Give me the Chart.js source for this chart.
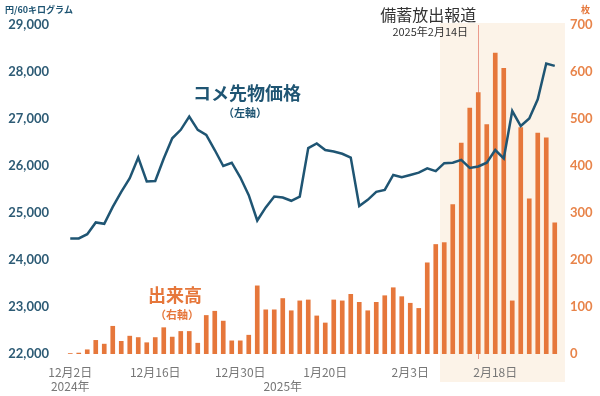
<!DOCTYPE html>
<html>
<head>
<meta charset="utf-8">
<script src="https://cdn.jsdelivr.net/npm/chart.js@4.4.1/dist/chart.umd.min.js"></script>
<style>
  body { margin: 0; background: #fff; }
  #wrap { width: 600px; height: 396px; position: relative; }
</style>
</head>
<body>
<div id="wrap"><canvas id="c"></canvas></div>
<script>
// 取引日 (2024/12/2 - 2025/2/28)
const dates = [
  '12月2日','12月3日','12月4日','12月5日','12月6日',
  '12月9日','12月10日','12月11日','12月12日','12月13日',
  '12月16日','12月17日','12月18日','12月19日','12月20日',
  '12月23日','12月24日','12月25日','12月26日','12月27日',
  '12月30日',
  '1月6日','1月7日','1月8日','1月9日','1月10日',
  '1月14日','1月15日','1月16日','1月17日',
  '1月20日','1月21日','1月22日','1月23日','1月24日',
  '1月27日','1月28日','1月29日','1月30日','1月31日',
  '2月3日','2月4日','2月5日','2月6日','2月7日',
  '2月10日','2月12日','2月13日','2月14日',
  '2月17日','2月18日','2月19日','2月20日','2月21日',
  '2月25日','2月26日','2月27日','2月28日'
];

// コメ先物価格 (円/60キログラム, 左軸)
const price = [
  24460, 24460, 24550, 24800, 24770, 25130, 25450, 25740, 26180, 25670,
  25680, 26160, 26590, 26770, 27050, 26770, 26660, 26340, 26000, 26070,
  25760, 25380, 24840, 25120, 25350, 25330, 25260, 25350, 26380, 26480,
  26340, 26310, 26260, 26180, 25150, 25280, 25450, 25490, 25810, 25760,
  25810, 25860, 25950, 25890, 26060, 26070, 26130, 25960, 25990, 26070,
  26340, 26160, 27170, 26850, 27010, 27420, 28180, 28130
];

// 出来高 (枚, 右軸)
const volume = [
  1, 2, 9, 29, 21, 59, 27, 38, 35, 24,
  35, 56, 36, 48, 48, 23, 82, 91, 70, 28,
  28, 40, 145, 94, 94, 118, 92, 113, 115, 81,
  66, 115, 113, 127, 110, 92, 110, 124, 141, 122,
  108, 97, 194, 233, 237, 318, 449, 523, 556, 488,
  640, 608, 113, 482, 330, 470, 460, 279
];

// x軸に出すラベル
const tickIndex = [0, 10, 20, 25, 30, 40, 50];
const tickText = [['12月2日', '2024年'], '12月16日', '12月30日', ['', '2025年'], '1月20日', '2月3日', '2月18日'];

const eventIndex = 48;          // 2025年2月14日
const shadeFrom = 43.5, shadeTo = 58.2;

const TEAL = '#1f5573';
const ORANGE = '#e6773b';
const JP = '"Noto Sans CJK JP", sans-serif';

function idxToX(scale, i) {
  const x0 = scale.getPixelForValue(0);
  const x1 = scale.getPixelForValue(1);
  return x0 + (x1 - x0) * i;
}

// 網掛けは軸ラベルより先に描く
const shade = {
  id: 'shade',
  beforeDraw(chart) {
    const { ctx, chartArea, scales } = chart;
    const xs = scales.x;
    const a = idxToX(xs, shadeFrom), b = idxToX(xs, shadeTo);
    ctx.save();
    ctx.fillStyle = '#fcf3e8';
    ctx.fillRect(a, chartArea.top - 2, b - a, 382 - chartArea.top + 2);
    ctx.restore();
  }
};

const eventLine = {
  id: 'eventLine',
  beforeDatasetsDraw(chart) {
    const { ctx, chartArea, scales } = chart;
    const ex = Math.round(idxToX(scales.x, eventIndex)) + 0.5;
    ctx.save();
    ctx.strokeStyle = '#eb9b8c';
    ctx.lineWidth = 1;
    ctx.beginPath();
    ctx.moveTo(ex, chartArea.top);
    ctx.lineTo(ex, chartArea.bottom + 5);
    ctx.stroke();
    ctx.restore();
  }
};

const notes = {
  id: 'notes',
  afterDraw(chart) {
    const { ctx, scales } = chart;
    const ex = idxToX(scales.x, eventIndex);
    ctx.save();
    ctx.textBaseline = 'middle';
    ctx.textAlign = 'left';
    ctx.fillStyle = TEAL;
    ctx.font = 'bold 9px ' + JP;
    ctx.fillText('円/60キログラム', 5, 10);
    ctx.fillStyle = ORANGE;
    ctx.fillText('枚', 581, 10);

    ctx.textAlign = 'center';
    ctx.fillStyle = TEAL;
    ctx.font = 'bold 18px ' + JP;
    ctx.fillText('コメ先物価格', 247, 93);
    ctx.font = 'bold 11px ' + JP;
    ctx.fillText('（左軸）', 245, 113);

    ctx.fillStyle = ORANGE;
    ctx.font = 'bold 18px ' + JP;
    ctx.fillText('出来高', 175, 295);
    ctx.font = 'bold 11px ' + JP;
    ctx.fillText('（右軸）', 177, 315);

    ctx.fillStyle = '#333';
    ctx.font = '16px ' + JP;
    ctx.fillText('備蓄放出報道', ex - 50, 15);
    ctx.font = '11px ' + JP;
    ctx.fillText('2025年2月14日', ex - 48, 32);
    ctx.restore();
  }
};

new Chart(document.getElementById('c'), {
  data: {
    labels: dates,
    datasets: [
      { type: 'line', label: 'コメ先物価格', data: price, yAxisID: 'y',
        borderColor: TEAL, borderWidth: 2.5, pointRadius: 0, tension: 0, order: 0 },
      { type: 'bar', label: '出来高', data: volume, yAxisID: 'y1',
        backgroundColor: ORANGE, barThickness: 4, order: 1 }
    ]
  },
  options: {
    responsive: true,
    maintainAspectRatio: false,
    animation: false,
    layout: { padding: { top: 25 } },
    plugins: { legend: { display: false }, tooltip: { enabled: false } },
    scales: {
      x: {
        offset: true,
        grid: { display: false, drawTicks: false },
        border: { display: false },
        afterFit: s => { s.height = 42; },
        ticks: {
          autoSkip: false, maxRotation: 0, padding: 11,
          color: '#777', font: { family: JP, size: 12 },
          callback: (v, i) => { const k = tickIndex.indexOf(i); return k < 0 ? null : tickText[k]; }
        }
      },
      y: {
        position: 'left', min: 22000, max: 29000,
        grid: { display: false, drawTicks: false },
        border: { display: false },
        afterFit: s => { s.width = 66; },
        ticks: { stepSize: 1000, padding: 17, color: '#2d5b75',
          font: { family: 'Lato', size: 13, weight: 'bold' } }
      },
      y1: {
        position: 'right', min: 0, max: 700,
        grid: { display: false, drawTicks: false },
        border: { display: false },
        afterFit: s => { s.width = 41; },
        ticks: { stepSize: 100, padding: 11, color: '#e8844a',
          font: { family: 'Lato', size: 13, weight: 'bold' } }
      }
    }
  },
  plugins: [shade, eventLine, notes]
});
</script>
</body>
</html>
